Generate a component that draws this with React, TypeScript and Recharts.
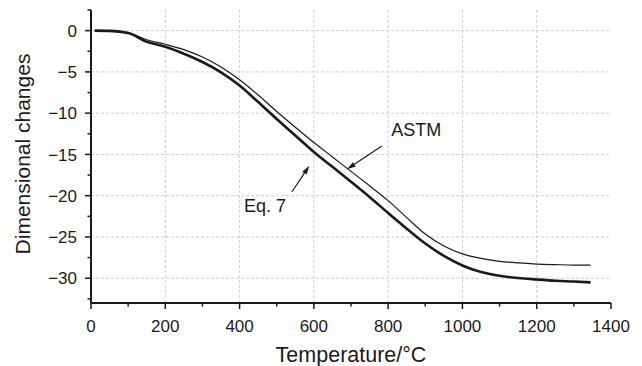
import React from "react";
import { LineChart, Line, XAxis, YAxis, ReferenceLine } from "recharts";

// temperature (°C) sample points, shared by both curves
const temps = [10, 50, 100, 150, 200, 250, 300, 350, 400, 450, 500, 550, 600, 650, 700, 750, 800, 850, 900, 950, 1000, 1050, 1100, 1150, 1200, 1250, 1300, 1345];
// Eq. 7 (thick)
const eq7 = [0, -0.03, -0.3, -1.35, -1.95, -2.8, -3.8, -5.05, -6.65, -8.65, -10.7, -12.7, -14.7, -16.5, -18.3, -20.15, -22.1, -24.0, -25.8, -27.3, -28.45, -29.25, -29.7, -29.98, -30.15, -30.3, -30.4, -30.5];
// ASTM (thin)
const astm = [0, -0.03, -0.25, -1.1, -1.65, -2.3, -3.2, -4.4, -5.95, -7.8, -9.8, -11.7, -13.55, -15.3, -17.05, -18.8, -20.6, -22.65, -24.65, -26.1, -27.05, -27.6, -27.95, -28.15, -28.28, -28.35, -28.4, -28.4];

const xTicks = [0, 100, 200, 300, 400, 500, 600, 700, 800, 900, 1000, 1100, 1200, 1300, 1400];
const yTicks = [2.5, 0, -2.5, -5, -7.5, -10, -12.5, -15, -17.5, -20, -22.5, -25, -27.5, -30, -32.5];
const xGrid = [200, 400, 600, 800, 1000, 1200];
const yGrid = [0, -5, -10, -15, -20, -25, -30];

// arrow annotations: [tail, tip]
const astmArrow = [{ x: 783, y: -13.97 }, { x: 689, y: -16.8 }];
const eq7Arrow = [{ x: 541, y: -19.52 }, { x: 588, y: -16.36 }];

const data = temps.map((t, i) => ({ t, eq7: eq7[i], astm: astm[i] }));

const FONT = "'Liberation Sans', Arial, sans-serif";
const INK = "#1a1a1a";

const fmt = (v: number) => (v < 0 ? `\u2212${Math.abs(v)}` : `${v}`);

const XTick = (props: any) => {
  const { x, y, payload } = props;
  const major = payload.value % 200 === 0;
  return (
    <g>
      <line x1={x} x2={x} y1={y} y2={y + (major ? 6 : 3.5)} stroke={INK} strokeWidth={1.5} />
      {major && (
        <text x={x} y={y + 29} textAnchor="middle" fontSize={17} fontFamily={FONT} fill={INK}>
          {payload.value}
        </text>
      )}
    </g>
  );
};

const YTick = (props: any) => {
  const { x, y, payload } = props;
  const major = payload.value % 5 === 0;
  return (
    <g>
      <line x1={x} x2={x - (major ? 6 : 3.5)} y1={y} y2={y} stroke={INK} strokeWidth={1.5} />
      {major && (
        <text x={x - 14} y={y} dy="0.36em" textAnchor="end" fontSize={17} fontFamily={FONT} fill={INK}>
          {fmt(payload.value)}
        </text>
      )}
    </g>
  );
};

const arrowShape = (label: string, dx: number, dy: number, anchor: string) => (props: any) => {
  const { x1, y1, x2, y2 } = props;
  const ang = Math.atan2(y2 - y1, x2 - x1);
  const len = 9;
  const hw = 2.6;
  const bx = x2 - len * Math.cos(ang);
  const by = y2 - len * Math.sin(ang);
  const px = -Math.sin(ang) * hw;
  const py = Math.cos(ang) * hw;
  return (
    <g>
      <line x1={x1} y1={y1} x2={bx} y2={by} stroke={INK} strokeWidth={1.2} />
      <polygon points={`${x2},${y2} ${bx + px},${by + py} ${bx - px},${by - py}`} fill={INK} />
      <text x={x1 + dx} y={y1 + dy} textAnchor={anchor} fontSize={18} fontFamily={FONT} fill={INK}>
        {label}
      </text>
    </g>
  );
};

export default function App() {
  return (
    <div style={{ position: "absolute", left: 0, top: 0, background: "#fff" }}>
      <LineChart width={642} height={366} data={data} margin={{ top: 10, right: 31, bottom: 30, left: 31 }}>
        <XAxis
          dataKey="t"
          type="number"
          domain={[0, 1400]}
          ticks={xTicks}
          interval={0}
          tickSize={0}
          tickMargin={0}
          tick={<XTick />}
          tickLine={false}
          axisLine={{ stroke: INK, strokeWidth: 2 }}
          height={33}
          label={{
            content: () => (
              <text x={351} y={362} textAnchor="middle" fontSize={21.5} fontFamily={FONT} fill={INK}>
                Temperature/°C
              </text>
            ),
          }}
        />
        <XAxis
          xAxisId="top"
          orientation="top"
          dataKey="t"
          type="number"
          domain={[0, 1400]}
          ticks={xTicks}
          tick={false}
          tickSize={3}
          tickLine={{ stroke: INK, strokeWidth: 1.2 }}
          axisLine={{ stroke: INK, strokeWidth: 2 }}
          height={0}
        />
        <YAxis
          type="number"
          domain={[-33, 2.5]}
          allowDataOverflow
          ticks={yTicks}
          interval={0}
          tickSize={0}
          tickMargin={0}
          tick={<YTick />}
          tickLine={false}
          axisLine={{ stroke: INK, strokeWidth: 2 }}
          width={60}
          label={{
            content: () => (
              <text
                x={30}
                y={154}
                transform="rotate(-90, 30, 154)"
                textAnchor="middle"
                fontSize={21}
                fontFamily={FONT}
                fill={INK}
              >
                Dimensional changes
              </text>
            ),
          }}
        />
        <YAxis
          yAxisId="right"
          orientation="right"
          type="number"
          domain={[-33, 2.5]}
          allowDataOverflow
          ticks={yTicks}
          tick={false}
          tickSize={2.5}
          tickLine={{ stroke: INK, strokeWidth: 1.2 }}
          axisLine={{ stroke: INK, strokeWidth: 2 }}
          width={0}
        />
        {xGrid.map((v) => (
          <ReferenceLine key={`gx${v}`} x={v} stroke="#cfcfcf" strokeDasharray="3 2" strokeWidth={1} />
        ))}
        {yGrid.map((v) => (
          <ReferenceLine key={`gy${v}`} y={v} stroke="#cfcfcf" strokeDasharray="3 2" strokeWidth={1} />
        ))}
        <Line type="monotone" dataKey="astm" stroke={INK} strokeWidth={1.2} dot={false} isAnimationActive={false} />
        <Line type="monotone" dataKey="eq7" stroke={INK} strokeWidth={2.6} dot={false} isAnimationActive={false} />
        <ReferenceLine segment={astmArrow} shape={arrowShape("ASTM", 9.5, -10, "start")} />
        <ReferenceLine segment={eq7Arrow} shape={arrowShape("Eq. 7", -6, 20.5, "end")} />
      </LineChart>
    </div>
  );
}
